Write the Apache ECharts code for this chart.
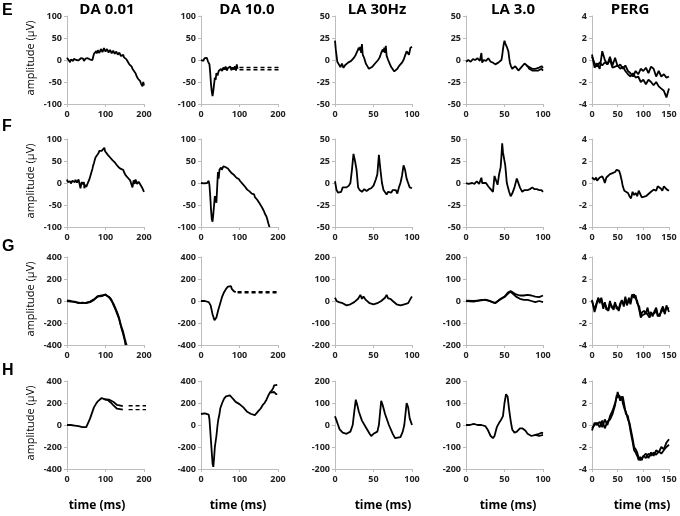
<!DOCTYPE html>
<html><head><meta charset="utf-8">
<script src="https://cdn.jsdelivr.net/npm/echarts@6/dist/echarts.min.js"></script>
<style>html,body{margin:0;padding:0;background:#fff}#c{width:680px;height:516px}</style>
</head><body><div id="c"></div>
<script>
// ---------- labels ----------
const columnTitles = ['DA 0.01', 'DA 10.0', 'LA 30Hz', 'LA 3.0', 'PERG'];
const rowLetters = ['E', 'F', 'G', 'H'];
const yTitle = 'amplitude (µV)';
const xTitle = 'time (ms)';

// ---------- axis scales (per column / per row) ----------
const xMaxes = [200, 200, 100, 100, 150];
const xSteps = [100, 100, 50, 50, 50];
const yLimits = [[100, 100, 50, 50, 4], [100, 100, 50, 50, 4], [400, 400, 200, 200, 4], [400, 400, 200, 200, 4]];
const ySteps = [[50, 50, 25, 25, 2], [50, 50, 25, 25, 2], [200, 200, 100, 100, 2], [200, 200, 100, 100, 2]];

// ---------- traces: [time ms, amplitude] ----------
// Row E
const E1a = [[0,5],[2,1],[4,0],[6,3],[8,-5],[10,1],[12,3],[14,-1],[16,-2],[18,3],[20,4],[22,0],[24,0],[26,4],[28,3],[30,-1],[32,-1],[34,3],[36,4],[38,0],[40,2],[42,3],[44,-2],[46,2],[48,3],[50,-1],[52,0],[54,4],[56,4],[58,0],[60,1],[62,4],[64,3],[66,0],[68,2],[70,14],[72,12],[74,17],[76,20],[78,15],[80,22],[82,21],[84,16],[86,19],[88,25],[90,24],[92,18],[94,20],[96,27],[98,26],[100,19],[102,21],[104,25],[106,24],[108,17],[110,18],[112,23],[114,21],[116,15],[118,16],[120,21],[122,20],[124,14],[126,15],[128,19],[130,18],[132,12],[134,14],[136,17],[138,16],[140,9],[142,10],[144,13],[146,12],[148,6],[150,5],[152,4],[154,2],[156,-2],[158,-4],[160,-6],[162,-10],[164,-6],[166,-8],[168,-15],[170,-20],[172,-18],[174,-25],[176,-28],[178,-30],[180,-35],[182,-38],[184,-42],[186,-44],[188,-46],[190,-48],[192,-53],[194,-52],[196,-60],[198,-50],[200,-58]];
const E2a = [[0,0],[3,3],[6,-2],[9,4],[12,0],[15,5],[18,-3],[20,0],[22,-10],[24,-30],[26,-55],[28,-72],[30,-82],[32,-70],[34,-55],[36,-40],[38,-45],[40,-30],[43,-35],[46,-25],[49,-28],[52,-20],[55,-25],[58,-17],[61,-22],[64,-15],[67,-24],[70,-18],[73,-22],[76,-15],[79,-23],[82,-17],[85,-22],[88,-14],[91,-24],[93,-10],[95,-20]];
const E2d1 = [[100,-17],[205,-17]];
const E2d2 = [[100,-22],[205,-22]];
const E3a = [[0,22],[1,12],[2,5],[3,-2],[5,-5],[7,-8],[9,-4],[11,-9],[13,-6],[15,-5],[17,-3],[19,-4],[21,-1],[23,0],[25,3],[27,6],[29,10],[31,14],[32,11],[33,15],[34,8],[35,18],[36,6],[38,2],[40,-4],[42,-7],[44,-10],[46,-9],[48,-8],[50,-7],[52,-4],[54,-2],[56,0],[58,3],[60,8],[62,12],[63,9],[64,14],[65,8],[66,16],[67,5],[69,0],[71,-4],[73,-8],[75,-10],[77,-13],[79,-11],[81,-10],[83,-7],[85,-5],[87,-3],[89,0],[91,5],[93,10],[94,8],[95,12],[96,6],[97,10],[98,14],[100,15]];
const E4a = [[0,-2],[3,0],[6,-2],[9,1],[12,0],[15,2],[18,-1],[20,8],[21,-3],[23,0],[26,-1],[29,2],[32,-2],[35,-3],[38,-5],[40,-6],[42,-3],[44,-2],[46,0],[47,5],[48,12],[49,18],[50,22],[51,19],[52,20],[53,15],[55,10],[56,3],[57,-3],[58,-6],[60,-10],[62,-9],[64,-7],[66,-9],[68,-12],[70,-10],[72,-8],[74,-6],[76,-4],[78,-6],[80,-7],[82,-10],[84,-12],[86,-12],[88,-13],[90,-12],[92,-11],[94,-12],[96,-11],[98,-10],[100,-12]];
const E4b = [[78,-6],[80,-6],[82,-8],[84,-9],[86,-10],[88,-9],[90,-10],[92,-8],[94,-9],[96,-8],[98,-7],[100,-9]];
const E5a = [[0,0.5],[5,-0.7],[10,-0.3],[15,-0.8],[20,0.8],[25,0],[30,-0.4],[35,0.3],[40,-0.5],[45,0.2],[50,-0.6],[55,-0.4],[60,-0.8],[65,-0.5],[70,-1.0],[75,-1.2],[80,-1.5],[85,-1.0],[90,-1.3],[95,-0.8],[100,-1.0],[105,-0.7],[110,-1.2],[115,-0.6],[120,-0.8],[125,-1.5],[130,-1.0],[135,-1.5],[140,-1.3],[145,-1.6],[150,-1.5]];
const E5b = [[0,0.3],[5,-0.3],[10,-0.6],[15,-0.2],[20,-0.5],[25,-0.2],[30,-0.4],[35,0],[40,-0.7],[45,-0.6],[50,-0.5],[55,-0.8],[60,-0.6],[65,-1.0],[70,-1.3],[75,-1.5],[80,-1.2],[85,-1.6],[90,-1.5],[95,-2.0],[100,-1.8],[105,-2.2],[110,-1.8],[115,-2.0],[120,-2.3],[125,-2.0],[130,-2.4],[135,-2.6],[140,-2.8],[145,-3.4],[150,-2.6]];
// Row F
const F1a = [[0,8],[2,2],[4,0],[6,5],[8,4],[10,-1],[12,-2],[14,5],[16,6],[18,1],[20,2],[22,7],[24,7],[26,1],[28,3],[30,8],[32,6],[35,-12],[38,2],[40,-1],[42,-3],[44,2],[45,-12],[48,-4],[50,-9],[52,-8],[55,2],[58,8],[60,12],[62,20],[64,26],[66,32],[68,40],[70,45],[72,52],[74,58],[76,60],[78,63],[80,67],[82,68],[84,73],[86,70],[88,75],[90,73],[92,70],[94,72],[97,80],[99,72],[100,70],[102,71],[104,68],[106,64],[108,62],[110,60],[112,58],[114,56],[116,55],[118,52],[120,50],[122,52],[124,47],[126,44],[128,42],[130,44],[132,40],[134,36],[136,34],[138,36],[140,32],[142,28],[144,28],[146,30],[148,25],[150,22],[152,18],[154,20],[156,16],[158,12],[160,10],[162,12],[164,6],[166,8],[168,2],[170,-10],[173,6],[176,-2],[178,8],[180,5],[182,-2],[184,-5],[186,3],[188,2],[190,-3],[192,-6],[194,-3],[196,-12],[198,-10],[200,-20]];
const F2a = [[0,0],[4,-3],[8,-1],[12,-2],[16,0],[20,5],[22,-5],[24,-30],[26,-60],[28,-82],[30,-88],[32,-70],[34,-50],[36,-30],[38,-40],[40,-45],[42,-10],[44,25],[46,10],[48,30],[50,28],[52,35],[54,30],[56,32],[58,38],[60,36],[62,39],[64,36],[66,33],[68,32],[70,33],[72,30],[74,28],[76,26],[78,27],[80,22],[82,23],[84,20],[86,18],[88,15],[90,16],[92,12],[94,11],[96,8],[98,9],[100,5],[102,4],[104,2],[106,0],[108,-2],[110,-3],[112,-6],[114,-8],[116,-10],[118,-12],[120,-15],[122,-14],[124,-18],[126,-19],[128,-22],[130,-20],[132,-24],[134,-27],[136,-28],[138,-26],[140,-32],[142,-34],[144,-36],[146,-38],[148,-42],[150,-40],[152,-46],[154,-50],[156,-52],[158,-55],[160,-58],[162,-62],[164,-65],[166,-70],[168,-72],[170,-76],[172,-82],[174,-86],[175,-92],[177,-96],[178,-100]];
const F3a = [[0,2],[2,-8],[4,-11],[6,-12],[8,-10],[10,-5],[12,-6],[15,-5],[18,-3],[20,0],[22,15],[24,33],[26,25],[28,15],[30,-5],[32,-8],[35,-10],[38,-7],[41,-9],[44,-7],[47,-6],[50,-3],[53,4],[55,10],[57,32],[59,15],[61,0],[63,-8],[65,-10],[67,-13],[69,-10],[71,-12],[73,-11],[75,-8],[77,-9],[79,-8],[81,-12],[83,-5],[85,0],[87,8],[89,20],[91,15],[93,5],[95,0],[97,-5],[100,-6]];
const F4a = [[0,0],[3,-1],[5,-2],[8,0],[11,-1],[14,2],[17,-1],[19,0],[20,6],[21,0],[23,-2],[26,0],[29,-4],[32,-7],[35,-10],[37,8],[39,8],[41,-2],[43,10],[45,18],[46,30],[47,45],[48,35],[49,30],[51,20],[53,0],[56,-10],[58,-15],[60,-12],[63,-5],[65,2],[66,5],[68,3],[70,-5],[73,-10],[76,-8],[80,-8],[83,-7],[86,-5],[89,-7],[92,-7],[95,-8],[98,-8],[100,-10]];
const F5a = [[0,0.5],[5,0.3],[8,0.5],[10,0.2],[15,0.5],[20,0.6],[23,0.3],[25,0],[28,0.5],[30,0.6],[35,0.8],[40,0.9],[45,1.0],[48,1.2],[50,1.3],[53,1.1],[55,0.8],[58,0.2],[60,-0.3],[63,-0.7],[66,-0.8],[70,-0.9],[73,-1.2],[76,-1.4],[79,-0.8],[82,-1.1],[85,-0.9],[88,-1.2],[91,-0.7],[94,-1.0],[97,-1.3],[100,-1.3],[105,-1.2],[110,-1.0],[115,-0.8],[120,-0.6],[125,-0.7],[128,-0.3],[131,-0.2],[134,-0.5],[137,-0.7],[140,-0.3],[143,-0.4],[146,-0.6],[150,-0.7]];
// Row G
const G1a = [[0,0],[10,-5],[20,-5],[30,-20],[40,-15],[50,-20],[60,-10],[70,10],[80,40],[90,45],[100,60],[105,45],[110,30],[115,20],[120,-20],[125,-60],[130,-100],[135,-150],[140,-220],[145,-270],[150,-340],[153,-380],[155,-400]];
const G1b = [[0,5],[10,0],[20,-10],[30,-15],[40,-20],[50,-15],[60,-5],[70,15],[80,45],[90,50],[100,55],[105,50],[110,35],[115,15],[120,-30],[125,-70],[130,-115],[135,-160],[140,-230],[145,-290],[150,-360],[152,-400]];
const G2a = [[0,0],[5,8],[10,0],[15,-5],[20,-10],[25,-40],[30,-120],[35,-175],[38,-170],[40,-150],[45,-80],[50,-20],[55,40],[60,80],[65,110],[70,130],[73,140],[75,125],[78,135],[80,110],[85,90],[90,80]];
const G2d1 = [[95,75],[200,75]];
const G2d2 = [[95,85],[200,85]];
const G3a = [[0,15],[2,0],[5,-5],[10,-10],[15,-20],[20,-15],[25,-5],[30,10],[33,28],[35,10],[37,20],[40,5],[45,-10],[50,-15],[55,-10],[60,0],[65,15],[67,28],[69,12],[72,10],[75,0],[80,-15],[85,-20],[90,-15],[95,-10],[98,10],[100,20]];
const G4a = [[0,0],[10,-3],[20,5],[25,5],[30,0],[35,-5],[38,-10],[40,-5],[45,10],[50,20],[55,40],[58,45],[60,40],[65,30],[70,25],[75,25],[80,28],[85,25],[90,20],[95,18],[100,25]];
const G4b = [[0,2],[10,0],[20,3],[25,6],[30,2],[35,-6],[38,-8],[40,-3],[45,8],[50,18],[55,35],[58,42],[60,35],[65,20],[70,10],[75,5],[80,5],[85,0],[90,-5],[95,0],[100,-5]];
const G5a = [[0,0],[5,-0.8],[8,-0.3],[12,0.2],[15,-0.2],[18,0.3],[22,-0.5],[25,-0.2],[28,-0.6],[32,-0.9],[35,-0.2],[38,-0.4],[42,-0.8],[45,-0.3],[48,-0.5],[52,-0.9],[55,-0.4],[58,0.1],[62,-0.5],[65,0.2],[68,-0.3],[72,0.3],[75,-0.1],[78,0.6],[82,0.3],[85,0.5],[88,-0.2],[92,-0.5],[95,-1.3],[98,-1.0],[102,-0.9],[105,-1.2],[108,-0.6],[112,-1.3],[115,-1.0],[118,-1.4],[122,-0.9],[125,-0.6],[128,-1.2],[132,-1.4],[135,-0.8],[138,-0.5],[142,-1.0],[145,-0.6],[150,-0.7]];
const G5b = [[0,0.1],[5,-1.0],[8,-0.5],[12,0.3],[15,0.0],[18,0.2],[22,-0.7],[25,-0.1],[28,-0.8],[32,-0.7],[35,0.0],[38,-0.6],[42,-0.6],[45,-0.1],[48,-0.7],[52,-0.7],[55,-0.2],[58,0.0],[62,-0.3],[65,0.4],[68,-0.4],[72,0.1],[75,-0.3],[78,0.4],[82,0.6],[85,0.2],[88,0.0],[92,-0.8],[95,-1.5],[98,-1.3],[102,-1.2],[105,-1.0],[108,-0.9],[112,-1.5],[115,-1.2],[118,-1.2],[122,-1.1],[125,-0.8],[128,-1.4],[132,-1.2],[135,-1.0],[138,-0.7],[142,-1.2],[145,-0.4],[150,-1.0]];
// Row H
const H1a = [[0,0],[10,0],[20,-5],[30,-10],[40,-20],[45,-30],[50,-20],[55,20],[60,60],[65,110],[70,160],[75,190],[80,215],[85,230],[90,245],[95,235],[100,232],[105,235],[110,230],[115,225],[120,212],[125,195],[130,182],[135,172],[145,172]];
const H1b = [[95,235],[100,230],[105,228],[110,218],[115,200],[120,180],[125,162],[130,148],[135,140],[145,140]];
const H1d1 = [[160,175],[240,175]];
const H1d2 = [[160,140],[240,140]];
const H2a = [[0,100],[5,100],[10,105],[15,100],[20,95],[22,50],[25,-100],[28,-250],[30,-350],[32,-380],[34,-300],[36,-200],[40,-100],[43,0],[45,50],[48,100],[50,150],[55,200],[60,240],[65,260],[70,262],[75,270],[80,250],[85,230],[90,210],[95,200],[100,190],[105,180],[110,160],[115,140],[120,120],[125,110],[130,100],[135,95],[140,90],[145,100],[150,130],[155,150],[160,180],[165,200],[170,230],[175,270],[180,300],[185,320],[188,340],[190,360],[193,370],[195,360],[198,365]];
const H2b = [[180,295],[185,310],[190,300],[195,280],[198,280]];
const H3a = [[0,40],[2,20],[4,0],[6,-20],[10,-35],[15,-40],[20,-30],[23,0],[25,60],[27,115],[29,90],[31,60],[35,20],[40,-10],[45,-40],[47,-50],[50,-40],[55,-30],[57,0],[60,110],[62,90],[65,50],[70,0],[75,-40],[78,-60],[80,-65],[85,-55],[88,-30],[90,0],[93,100],[95,80],[97,30],[100,0]];
const H4a = [[0,0],[5,0],[10,5],[15,0],[20,0],[25,-5],[28,-20],[32,-50],[35,-60],[37,-50],[40,-10],[43,10],[45,20],[48,40],[50,100],[52,140],[54,130],[56,70],[58,20],[60,-20],[63,-35],[66,-30],[70,-15],[73,-15],[77,-25],[80,-40],[85,-50],[90,-45],[95,-50],[100,-45]];
const H4b = [[90,-45],[95,-40],[98,-35],[100,-38]];
const H5a = [[0,-0.5],[5,0.2],[10,0.0],[15,0.3],[20,-0.2],[25,0.5],[30,0.0],[35,0.8],[40,1.3],[45,2.0],[48,2.5],[50,3.0],[53,2.5],[55,2.2],[58,2.6],[60,2.0],[63,1.5],[66,1.2],[70,0.5],[73,0.2],[76,-0.5],[79,-1.2],[82,-2.0],[85,-2.2],[88,-2.5],[91,-3.0],[94,-3.2],[97,-3.0],[100,-3.1],[105,-2.6],[110,-3.0],[115,-2.5],[120,-2.8],[125,-2.3],[130,-2.5],[135,-2.0],[140,-2.2],[145,-1.6],[150,-1.3]];
const H5b = [[0,-0.3],[5,0.0],[10,0.2],[15,-0.2],[20,0.4],[25,-0.3],[30,0.3],[35,0.5],[40,1.0],[45,1.8],[48,2.7],[50,2.5],[53,2.7],[55,2.5],[58,2.3],[60,2.6],[63,1.8],[66,1.0],[70,0.8],[73,0.0],[76,-0.8],[79,-1.5],[82,-2.3],[85,-2.5],[88,-2.8],[91,-3.2],[94,-2.9],[97,-3.2],[100,-2.8],[105,-3.0],[110,-2.6],[115,-2.8],[120,-2.5],[125,-2.7],[130,-2.4],[135,-2.6],[140,-2.3],[145,-2.0],[150,-1.8]];

const solidTraces = [
  [[E1a], [E2a], [E3a], [E4a, E4b], [E5a, E5b]],
  [[F1a], [F2a], [F3a], [F4a], [F5a]],
  [[G1a, G1b], [G2a], [G3a], [G4a, G4b], [G5a, G5b]],
  [[H1a, H1b], [H2a, H2b], [H3a], [H4a, H4b], [H5a, H5b]]
];
const dashedTraces = [
  [[], [E2d1, E2d2], [], [], []],
  [[], [], [], [], []],
  [[], [G2d1, G2d2], [], [], []],
  [[H1d1, H1d2], [], [], [], []]
];

// ---------- layout ----------
const colLeft = [67, 201, 335, 466, 592];
const plotW = 77;
const rowTop = [16, 139, 257, 381];
const plotH = 88;
const FONT = '"Open Sans", "Liberation Sans", sans-serif';

const grids = [], xAxes = [], yAxes = [], series = [], graphics = [];
const axisColor = '#bdbdbd';
let k = 0;
for (let r = 0; r < 4; r++) {
  for (let c = 0; c < 5; c++) {
    grids.push({left: colLeft[c], top: rowTop[r], width: plotW, height: plotH});
    xAxes.push({
      gridIndex: k, type: 'value', min: 0, max: xMaxes[c], interval: xSteps[c],
      axisLine: {show: true, onZero: false, lineStyle: {color: axisColor, width: 1}},
      axisTick: {show: true, length: 3, lineStyle: {color: axisColor}},
      axisLabel: {fontSize: 9, color: '#222', fontWeight: 'bold', fontFamily: FONT, margin: 6},
      splitLine: {show: false}
    });
    yAxes.push({
      gridIndex: k, type: 'value', min: -yLimits[r][c], max: yLimits[r][c], interval: ySteps[r][c],
      axisLine: {show: true, onZero: false, lineStyle: {color: axisColor, width: 1}},
      axisTick: {show: true, length: 3, lineStyle: {color: axisColor}},
      axisLabel: {fontSize: 9, color: '#222', fontWeight: 'bold', fontFamily: FONT, margin: 5},
      splitLine: {show: false}
    });
    solidTraces[r][c].forEach(tr => series.push({
      type: 'line', xAxisIndex: k, yAxisIndex: k, data: tr, showSymbol: false, symbol: 'none',
      lineStyle: {color: '#000', width: 1.8}, clip: false, silent: true
    }));
    dashedTraces[r][c].forEach(tr => series.push({
      type: 'line', xAxisIndex: k, yAxisIndex: k, data: tr, showSymbol: false, symbol: 'none',
      lineStyle: {color: '#000', width: 1.4, type: [4, 3]}, clip: false, silent: true
    }));
    k++;
  }
}

// texts
const titleX = [107, 247, 377, 513, 630];
columnTitles.forEach((t, i) => graphics.push({type: 'text', x: titleX[i], y: 10,
  style: {text: t, fontSize: 15, fontWeight: 'bold', fontFamily: FONT, fill: '#000', align: 'center', verticalAlign: 'middle'}}));
const letterY = [11, 127, 247, 371];
rowLetters.forEach((t, i) => graphics.push({type: 'text', x: 2, y: letterY[i],
  style: {text: t, fontSize: 16, fontWeight: 'bold', fontFamily: '"Liberation Sans", Arial, sans-serif', fill: '#000', align: 'left', verticalAlign: 'middle'}}));
rowTop.forEach(t => graphics.push({type: 'text', x: 31, y: t + plotH / 2 - 2, rotation: Math.PI / 2,
  style: {text: yTitle, fontSize: 11, fontFamily: FONT, fill: '#000', align: 'center', verticalAlign: 'middle'}}));
const timeX = [97, 238, 383, 508, 642];
timeX.forEach(x => graphics.push({type: 'text', x: x, y: 506,
  style: {text: xTitle, fontSize: 12, fontWeight: 'bold', fontFamily: FONT, fill: '#000', align: 'center', verticalAlign: 'middle'}}));

const chart = echarts.init(document.getElementById('c'), null, {renderer: 'canvas'});
chart.setOption({
  animation: false,
  backgroundColor: '#fff',
  grid: grids, xAxis: xAxes, yAxis: yAxes, series: series, graphic: graphics
});
</script>
</body></html>
